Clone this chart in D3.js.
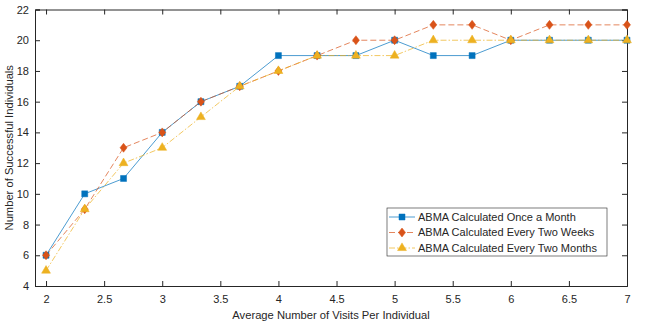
<!DOCTYPE html>
<html>
<head>
<meta charset="utf-8">
<script src="https://cdn.jsdelivr.net/npm/d3@7"></script>
<style>
  body { margin: 0; background: #fff; }
  svg text { font-family: "Liberation Sans", Arial, sans-serif; fill: #262626; }
</style>
</head>
<body>
<div id="chart"></div>
<script>
var svgWidth = 657;
var svgHeight = 323;
var margin = { top: 9.5, right: 30, bottom: 37, left: 35 };
var width = svgWidth - margin.left - margin.right;
var height = svgHeight - margin.top - margin.bottom;

// data
var visits = [2, 2.333, 2.667, 3, 3.333, 3.667, 4, 4.333, 4.667, 5, 5.333, 5.667, 6, 6.333, 6.667, 7];
var onceMonth = [6, 10, 11, 14, 16, 17, 19, 19, 19, 20, 19, 19, 20, 20, 20, 20];
var everyTwoWeeks = [6, 9, 13, 14, 16, 17, 18, 19, 20, 20, 21, 21, 20, 21, 21, 21];
var everyTwoMonths = [5, 9, 12, 13, 15, 17, 18, 19, 19, 19, 20, 20, 20, 20, 20, 20];
var seriesNames = ["ABMA Calculated Once a Month", "ABMA Calculated Every Two Weeks", "ABMA Calculated Every Two Months"];
var xTicks = [2, 2.5, 3, 3.5, 4, 4.5, 5, 5.5, 6, 6.5, 7];
var yTicks = [4, 6, 8, 10, 12, 14, 16, 18, 20, 22];

// matlab style diamond, a bit wider than d3's
var wideDiamond = {
    draw: function (context, size) {
        var h = Math.sqrt(size) * 0.75;
        var w = h * 0.78;
        context.moveTo(0, -h);
        context.lineTo(w, 0);
        context.lineTo(0, h);
        context.lineTo(-w, 0);
        context.closePath();
    }
};

var series = [
    { name: seriesNames[0], values: onceMonth, color: "#0072BD", dash: null, symbol: d3.symbolSquare, size: 36 },
    { name: seriesNames[1], values: everyTwoWeeks, color: "#D95319", dash: "6,3", symbol: wideDiamond, size: 36 },
    { name: seriesNames[2], values: everyTwoMonths, color: "#EDB120", dash: "6,2,1.5,2", symbol: d3.symbolTriangle, size: 34 }
];

var svg = d3.select("#chart")
    .append("svg")
    .attr("width", svgWidth)
    .attr("height", svgHeight);
var chart = svg.append("g")
    .attr("transform", "translate(" + margin.left + "," + margin.top + ")");

var x = d3.scaleLinear().domain([1.905, 7]).range([0, width]);
var y = d3.scaleLinear().domain([4, 22]).range([height, 0]);

var axisColor = "#262626";

// bottom / left axes with inward ticks, plus the box on top and right
var xAxis = d3.axisBottom(x).tickValues(xTicks).tickSize(-5).tickPadding(9).tickFormat(d3.format("~g"));
var yAxis = d3.axisLeft(y).tickValues(yTicks).tickSize(-5).tickPadding(6);
var xTop = d3.axisTop(x).tickValues(xTicks).tickSize(-5).tickFormat("");
var yRight = d3.axisRight(y).tickValues(yTicks).tickSize(-5).tickFormat("");

function styleAxis(g) {
    g.select(".domain").attr("stroke", axisColor);
    g.selectAll(".tick line").attr("stroke", axisColor);
    g.selectAll(".tick text").style("font-size", "11px").attr("fill", axisColor);
}

chart.append("g").attr("transform", "translate(0," + height + ")").call(xAxis).call(styleAxis);
chart.append("g").call(yAxis).call(styleAxis);
chart.append("g").call(xTop).call(styleAxis);
chart.append("g").attr("transform", "translate(" + width + ",0)").call(yRight).call(styleAxis);

// lines and markers
var line = d3.line()
    .x(function (d, i) { return x(visits[i]); })
    .y(function (d) { return y(d); });

series.forEach(function (s) {
    chart.append("path")
        .datum(s.values)
        .attr("fill", "none")
        .attr("stroke", s.color)
        .attr("stroke-opacity", 0.7)
        .attr("stroke-width", 1)
        .attr("stroke-dasharray", s.dash)
        .attr("d", line);
});

series.forEach(function (s) {
    chart.selectAll(null)
        .data(s.values)
        .enter()
        .append("path")
        .attr("d", d3.symbol().type(s.symbol).size(s.size))
        .attr("transform", function (d, i) {
            return "translate(" + x(visits[i]) + "," + y(d) + ")";
        })
        .attr("fill", s.color)
        .attr("stroke", s.color)
        .attr("stroke-width", 0.5);
});

// axis labels
chart.append("text")
    .attr("x", width / 2)
    .attr("y", height + 33)
    .attr("text-anchor", "middle")
    .style("font-size", "11.2px")
    .text("Average Number of Visits Per Individual");

chart.append("text")
    .attr("transform", "rotate(-90)")
    .attr("x", -height / 2)
    .attr("y", -margin.left + 13)
    .attr("text-anchor", "middle")
    .style("font-size", "11.2px")
    .text("Number of Successful Individuals");

// legend
var legend = chart.append("g")
    .attr("transform", "translate(" + (387 - margin.left) + "," + (208 - margin.top) + ")");
legend.append("rect")
    .attr("width", 220)
    .attr("height", 48)
    .attr("fill", "#fff")
    .attr("stroke", "#262626")
    .attr("stroke-width", 0.6);

series.forEach(function (s, i) {
    var row = legend.append("g").attr("transform", "translate(0," + (9 + i * 15.5) + ")");
    row.append("line")
        .attr("x1", 2).attr("x2", 28)
        .attr("stroke", s.color)
        .attr("stroke-opacity", 0.7)
        .attr("stroke-dasharray", s.dash);
    row.append("path")
        .attr("d", d3.symbol().type(s.symbol).size(s.size))
        .attr("transform", "translate(15,0)")
        .attr("fill", s.color)
        .attr("stroke", s.color)
        .attr("stroke-width", 0.5);
    row.append("text")
        .attr("x", 31)
        .attr("dy", "0.35em")
        .style("font-size", "11px")
        .text(s.name);
});
</script>
</body>
</html>
